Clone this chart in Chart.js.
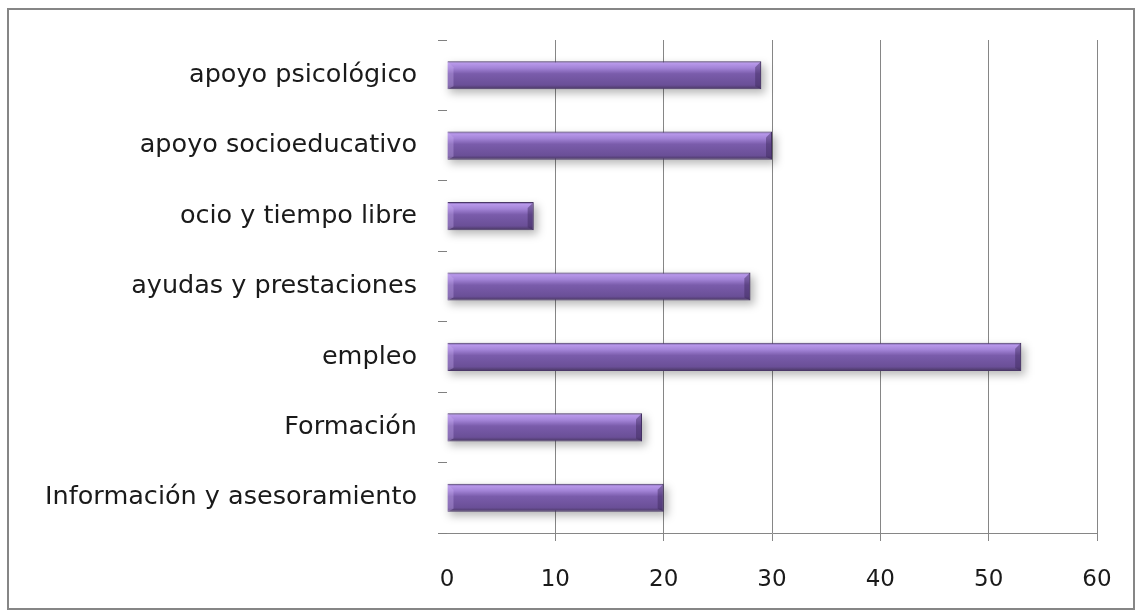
<!DOCTYPE html>
<html>
<head>
<meta charset="utf-8">
<script src="https://cdn.jsdelivr.net/npm/chart.js@4/dist/chart.umd.min.js"></script>
<style>
  body { margin: 0; background: #fff; }
  #wrap { position: absolute; left: 0; top: 0; width: 1140px; height: 616px; }
  #frame { position: absolute; left: 7px; top: 8px; width: 1124px; height: 598px; border: 2px solid #868686; pointer-events: none; }
</style>
</head>
<body>
<div id="wrap">
  <canvas id="chart" width="1140" height="616"></canvas>
  <div id="frame"></div>
</div>
<script>
const categories = [
  'apoyo psicológico',
  'apoyo socioeducativo',
  'ocio y tiempo libre',
  'ayudas y prestaciones',
  'empleo',
  'Formación',
  'Información y asesoramiento'
];
const values = [29, 30, 8, 28, 53, 18, 20];
const xTicks = [0, 10, 20, 30, 40, 50, 60];

// glossy bar fill + soft drop shadow, like the office 3d bar style
const barStyle = {
  id: 'barStyle',
  beforeDatasetsDraw(chart) {
    const ctx = chart.ctx;
    chart.getDatasetMeta(0).data.forEach(el => {
      const top = el.y - el.height / 2, bottom = el.y + el.height / 2;
      const g = ctx.createLinearGradient(0, top, 0, bottom);
      g.addColorStop(0, '#5b4589');
      g.addColorStop(0.08, '#b898ea');
      g.addColorStop(0.25, '#a283d6');
      g.addColorStop(0.45, '#7a5cab');
      g.addColorStop(0.85, '#6a4f97');
      g.addColorStop(1, '#47365f');
      el.options = Object.assign({}, el.options, { backgroundColor: g });

      // shadow under the bar
      ctx.save();
      ctx.filter = 'blur(4px)';
      ctx.fillStyle = 'rgba(0,0,0,0.28)';
      ctx.fillRect(el.base + 2, top + 4, el.x - el.base + 2, el.height);
      ctx.restore();
    });
  },
  afterDatasetsDraw(chart) {
    const ctx = chart.ctx;
    // bevel at the bar ends
    chart.getDatasetMeta(0).data.forEach(el => {
      const top = el.y - el.height / 2, bottom = el.y + el.height / 2;
      const b = 6;
      ctx.save();
      ctx.fillStyle = 'rgba(60,40,90,0.45)';
      ctx.beginPath();
      ctx.moveTo(el.x, top);
      ctx.lineTo(el.x - b, top + b);
      ctx.lineTo(el.x - b, bottom - 3);
      ctx.lineTo(el.x, bottom);
      ctx.closePath();
      ctx.fill();
      ctx.fillStyle = 'rgba(200,175,240,0.35)';
      ctx.beginPath();
      ctx.moveTo(el.base, top);
      ctx.lineTo(el.base + b, top + b);
      ctx.lineTo(el.base + b, bottom - 3);
      ctx.lineTo(el.base, bottom);
      ctx.closePath();
      ctx.fill();
      ctx.restore();
    });
  }
};

new Chart(document.getElementById('chart'), {
  type: 'bar',
  data: {
    labels: categories,
    datasets: [{
      data: values,
      backgroundColor: '#7a5cab',
      borderColor: '#4a3868',
      borderWidth: 1,
      barPercentage: 0.4,
      categoryPercentage: 1
    }]
  },
  options: {
    indexAxis: 'y',
    responsive: false,
    animation: false,
    layout: { padding: { left: 0, top: 40, right: 43, bottom: 0 } },
    plugins: { legend: { display: false }, tooltip: { enabled: false } },
    scales: {
      x: {
        min: 0,
        max: 60,
        afterBuildTicks: s => { s.ticks = xTicks.map(v => ({ value: v })); },
        afterFit: s => { s.height = 83; },
        grid: {
          color: c => (c.tick && c.tick.value === 0) ? 'rgba(0,0,0,0)' : '#868686',
          lineWidth: 1,
          tickLength: 8
        },
        border: { display: true, color: '#868686' },
        ticks: {
          color: '#1a1a1a',
          font: { family: 'DejaVu Sans', size: 23 },
          padding: 25
        }
      },
      y: {
        afterFit: s => { s.width = 447; },
        grid: {
          drawOnChartArea: false,
          drawTicks: true,
          tickLength: 9,
          color: '#808080',
          offset: true
        },
        border: { display: false },
        ticks: {
          color: '#1a1a1a',
          font: { family: 'DejaVu Sans', size: 25.5 },
          padding: 21
        }
      }
    }
  },
  plugins: [barStyle]
});
</script>
</body>
</html>
